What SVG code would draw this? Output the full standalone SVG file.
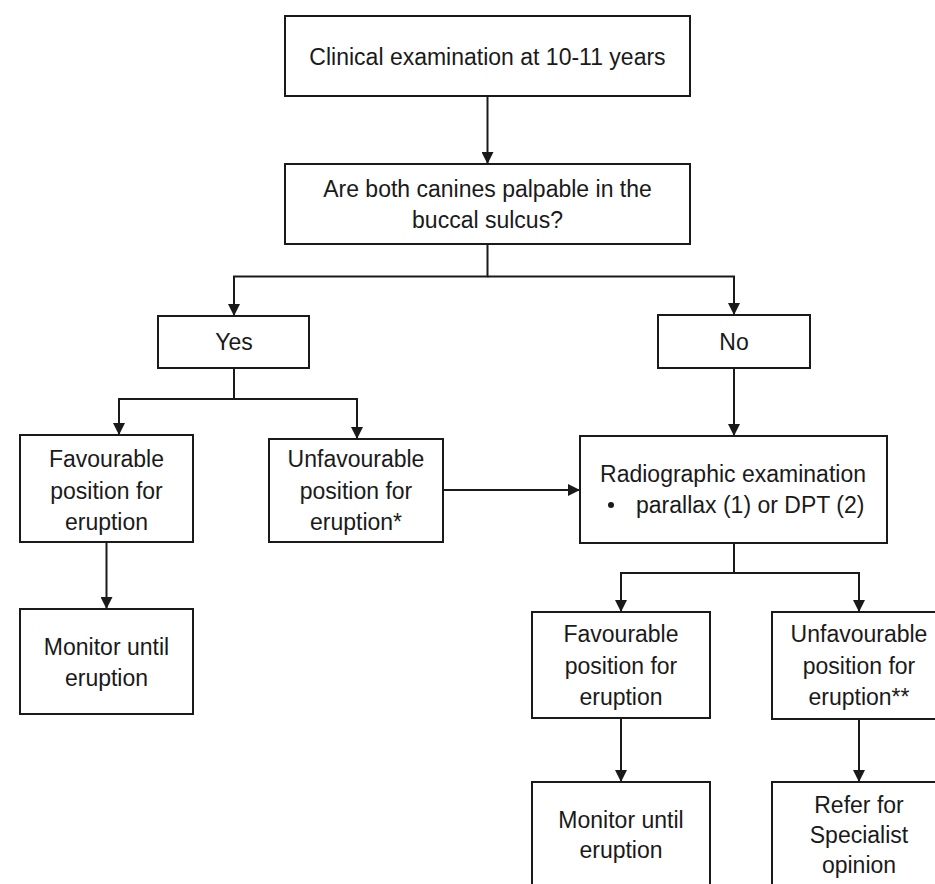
<svg xmlns="http://www.w3.org/2000/svg" width="935" height="884" viewBox="0 0 935 884">
<style>
.box{fill:#fff;stroke:#1a1a1a;stroke-width:2}
.t{font-family:"Liberation Sans",Arial,sans-serif;font-size:23px;fill:#1a1a1a;text-anchor:middle}
.c{fill:none;stroke:#1a1a1a;stroke-width:2}
</style>
<defs>
<marker id="ah" markerUnits="userSpaceOnUse" markerWidth="12" markerHeight="12" refX="11" refY="6" orient="auto">
<path d="M0,0 L12,6 L0,12 z" fill="#1a1a1a"/>
</marker>
</defs>
<rect width="935" height="884" fill="#fff"/>
<g id="connectors">
<path class="c" d="M487.5,96 V163" marker-end="url(#ah)"/>
<path class="c" d="M487.5,244 V276.5 H234 V315" marker-end="url(#ah)"/>
<path class="c" d="M487.5,276.5 H734 V314" marker-end="url(#ah)"/>
<path class="c" d="M234,368 V399 H119 V434" marker-end="url(#ah)"/>
<path class="c" d="M234,399 H357 V438" marker-end="url(#ah)"/>
<path class="c" d="M106.5,542 V608" marker-end="url(#ah)"/>
<path class="c" d="M443,490 H579" marker-end="url(#ah)"/>
<path class="c" d="M734,368 V435" marker-end="url(#ah)"/>
<path class="c" d="M734,543 V573 H621 V611" marker-end="url(#ah)"/>
<path class="c" d="M734,573 H859 V611" marker-end="url(#ah)"/>
<path class="c" d="M621,718 V781" marker-end="url(#ah)"/>
<path class="c" d="M859,719 V781" marker-end="url(#ah)"/>
</g>
<g id="n1"><rect class="box" x="285" y="16" width="405" height="80"/><text class="t" x="487.5" y="65">Clinical examination at 10-11 years</text></g>
<g id="n2"><rect class="box" x="285" y="164" width="405" height="80"/><text class="t" x="487.5" y="197">Are both canines palpable in the</text><text class="t" x="487.5" y="228">buccal sulcus?</text></g>
<g id="yes"><rect class="box" x="158" y="316" width="151" height="52"/><text class="t" x="234" y="350">Yes</text></g>
<g id="no"><rect class="box" x="658" y="315" width="152" height="53"/><text class="t" x="734" y="350">No</text></g>
<g id="fav1"><rect class="box" x="20" y="435" width="173" height="107"/><text class="t" x="106.5" y="467">Favourable</text><text class="t" x="106.5" y="498.5">position for</text><text class="t" x="106.5" y="530">eruption</text></g>
<g id="unfav1"><rect class="box" x="269" y="439" width="174" height="103"/><text class="t" x="356" y="467">Unfavourable</text><text class="t" x="356" y="498.5">position for</text><text class="t" x="356" y="530">eruption*</text></g>
<g id="mon1"><rect class="box" x="20" y="609" width="173" height="105"/><text class="t" x="106.5" y="655">Monitor until</text><text class="t" x="106.5" y="686">eruption</text></g>
<g id="radio"><rect class="box" x="580" y="436" width="307" height="107"/><text class="t" x="733" y="482">Radiographic examination</text><circle cx="611" cy="505" r="3" fill="#1a1a1a"/><text class="t" x="636" y="513" text-anchor="start" style="text-anchor:start">parallax (1) or DPT (2)</text></g>
<g id="fav2"><rect class="box" x="532" y="612" width="178" height="106"/><text class="t" x="621" y="642">Favourable</text><text class="t" x="621" y="673.5">position for</text><text class="t" x="621" y="705">eruption</text></g>
<g id="unfav2"><rect class="box" x="772" y="612" width="174" height="107"/><text class="t" x="859" y="642">Unfavourable</text><text class="t" x="859" y="673.5">position for</text><text class="t" x="859" y="705">eruption**</text></g>
<g id="mon2"><rect class="box" x="532" y="782" width="178" height="120"/><text class="t" x="621" y="828">Monitor until</text><text class="t" x="621" y="858">eruption</text></g>
<g id="refer"><rect class="box" x="772" y="782" width="174" height="120"/><text class="t" x="859" y="813">Refer for</text><text class="t" x="859" y="843">Specialist</text><text class="t" x="859" y="873">opinion</text></g>
</svg>
